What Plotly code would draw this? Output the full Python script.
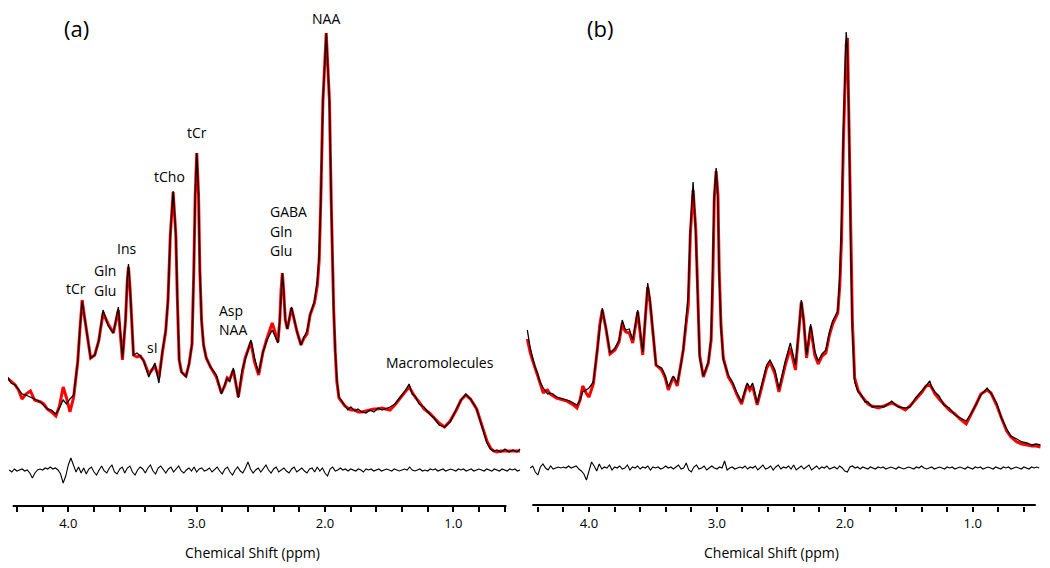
import numpy as np
import plotly.graph_objects as go

# ---------------- Panel (a) spectrum: chemical shift (ppm), fitted model, measured data (a.u.)
PPM_A = [4.475, 4.447, 4.414, 4.388, 4.361, 4.330, 4.295, 4.263, 4.216, 4.189,
         4.164, 4.131, 4.097, 4.069, 4.040, 4.014, 3.987, 3.958, 3.926, 3.910,
         3.892, 3.876, 3.861, 3.826, 3.794, 3.763, 3.729, 3.689, 3.649, 3.610,
         3.578, 3.554, 3.540, 3.531, 3.518, 3.505, 3.492, 3.465, 3.439, 3.412,
         3.373, 3.325, 3.294, 3.266, 3.241, 3.223, 3.205, 3.183, 3.162, 3.150,
         3.136, 3.118, 3.083, 3.059, 3.036, 3.022, 3.011, 2.999, 2.985, 2.975,
         2.962, 2.946, 2.925, 2.892, 2.846, 2.807, 2.779, 2.762, 2.744, 2.714,
         2.675, 2.646, 2.622, 2.577, 2.549, 2.517, 2.483, 2.451, 2.411, 2.366,
         2.352, 2.342, 2.332, 2.322, 2.309, 2.293, 2.261, 2.219, 2.187, 2.163,
         2.140, 2.116, 2.082, 2.059, 2.045, 2.033, 2.016, 1.990, 1.965, 1.951,
         1.942, 1.932, 1.920, 1.907, 1.891, 1.871, 1.845, 1.821, 1.798, 1.767,
         1.743, 1.713, 1.681, 1.649, 1.618, 1.587, 1.556, 1.529, 1.493, 1.455,
         1.415, 1.376, 1.344, 1.321, 1.298, 1.266, 1.228, 1.186, 1.150, 1.111,
         1.068, 1.025, 0.976, 0.940, 0.902, 0.866, 0.818, 0.781, 0.738, 0.710,
         0.686, 0.659, 0.628, 0.597, 0.566, 0.535, 0.504, 0.480]
FIT_A = [92, 89, 85, 80, 71, 76, 79, 70, 68, 66,
         61, 58, 54, 64, 83, 72, 58, 73, 109, 140,
         170, 155, 142, 112, 115, 129, 157, 146, 137, 160,
         110, 150, 190, 203, 180, 140, 115, 113, 114, 109,
         96, 104, 92, 118, 139, 170, 235, 278, 235, 170,
         110, 98, 94, 106, 126, 200, 275, 317, 275, 200,
         150, 125, 112, 103, 93, 77, 85, 92, 90, 100,
         73, 96, 112, 128, 108, 95, 118, 132, 147, 128,
         150, 180, 197, 180, 150, 141, 162, 139, 125, 132,
         136, 155, 167, 185, 210, 267, 369, 437, 369, 267,
         206, 160, 118, 88, 72, 68, 64, 62, 60, 60,
         58, 58, 59, 60, 61, 61, 62, 61, 60, 65,
         71, 78, 83, 78, 73, 68, 61, 57, 52, 47,
         43, 49, 60, 70, 75, 71, 61, 46, 29, 22,
         19, 18, 19, 19, 19, 19, 19, 19]
DATA_A = [93, 87, 85, 81, 76, 75, 73, 71, 68, 64,
          61, 60, 56, 62, 70, 66, 71, 75, 109, 140,
          169, 155, 142, 112, 115, 129, 160, 144, 137, 163,
          112, 150, 192, 206, 180, 140, 115, 117, 114, 109,
          93, 107, 87, 120, 139, 170, 235, 279, 235, 170,
          110, 98, 93, 106, 126, 200, 275, 317, 275, 200,
          150, 125, 112, 103, 95, 76, 87, 92, 88, 102,
          72, 100, 110, 130, 112, 97, 118, 130, 140, 127,
          150, 180, 197, 180, 150, 141, 163, 139, 125, 133,
          139, 155, 169, 190, 215, 267, 369, 437, 369, 267,
          206, 160, 120, 90, 73, 69, 65, 60, 63, 59,
          61, 58, 57, 60, 58, 62, 60, 61, 63, 66,
          72, 79, 86, 76, 74, 66, 63, 56, 52, 45,
          43, 48, 61, 70, 76, 71, 61, 46, 27, 21,
          19, 20, 18, 21, 18, 20, 18, 21]

# ---------------- Panel (b) spectrum
PPM_B = [4.482, 4.461, 4.442, 4.422, 4.403, 4.383, 4.357, 4.344, 4.324, 4.305,
         4.281, 4.253, 4.227, 4.201, 4.172, 4.149, 4.121, 4.094, 4.070, 4.049,
         4.023, 4.000, 3.966, 3.935, 3.916, 3.896, 3.883, 3.867, 3.836, 3.797,
         3.765, 3.740, 3.722, 3.711, 3.685, 3.658, 3.619, 3.597, 3.580, 3.558,
         3.541, 3.523, 3.502, 3.476, 3.432, 3.406, 3.380, 3.341, 3.310, 3.281,
         3.263, 3.242, 3.224, 3.208, 3.186, 3.165, 3.151, 3.135, 3.106, 3.067,
         3.045, 3.032, 3.021, 3.006, 2.992, 2.982, 2.968, 2.950, 2.911, 2.878,
         2.846, 2.807, 2.781, 2.763, 2.742, 2.721, 2.685, 2.642, 2.611, 2.585,
         2.546, 2.515, 2.465, 2.426, 2.386, 2.359, 2.340, 2.322, 2.299, 2.267,
         2.235, 2.208, 2.178, 2.148, 2.120, 2.095, 2.055, 2.039, 2.026, 2.011,
         1.989, 1.979, 1.965, 1.953, 1.941, 1.923, 1.897, 1.870, 1.842, 1.818,
         1.788, 1.738, 1.694, 1.633, 1.585, 1.527, 1.490, 1.447, 1.396, 1.365,
         1.336, 1.318, 1.295, 1.263, 1.225, 1.183, 1.139, 1.100, 1.051, 1.014,
         0.972, 0.936, 0.887, 0.857, 0.813, 0.775, 0.734, 0.701, 0.655, 0.615,
         0.576, 0.536, 0.505, 0.470]
FIT_B = [131, 118, 110, 101, 95, 87, 77, 79, 80, 76,
         74, 72, 71, 70, 69, 67, 65, 62, 70, 84,
         77, 73, 86, 120, 145, 160, 152, 141, 116, 120,
         128, 147, 140, 138, 137, 127, 158, 135, 115, 155,
         183, 168, 140, 105, 100, 93, 80, 93, 84, 105,
         120, 145, 165, 235, 280, 240, 175, 115, 93, 107,
         130, 190, 270, 299, 275, 200, 145, 112, 93, 86,
         76, 66, 78, 85, 80, 84, 65, 85, 102, 108,
         96, 78, 105, 122, 100, 140, 168, 150, 112, 143,
         115, 106, 114, 117, 135, 146, 157, 185, 230, 330,
         425, 432, 340, 230, 150, 92, 80, 74, 70, 66,
         64, 62, 64, 67, 64, 60, 64, 70, 78, 84,
         85, 82, 76, 71, 66, 60, 56, 51, 46, 55,
         66, 76, 80, 77, 65, 52, 39, 33, 28, 26,
         25, 24, 24, 23]
DATA_B = [140, 123, 113, 103, 97, 88, 82, 80, 76, 77,
          76, 73, 72, 71, 70, 69, 67, 65, 70, 78,
          80, 82, 88, 120, 145, 162, 152, 142, 117, 122,
          130, 150, 142, 140, 141, 130, 160, 135, 118, 155,
          187, 170, 143, 105, 102, 95, 83, 94, 87, 105,
          120, 147, 175, 240, 288, 235, 170, 112, 94, 108,
          132, 200, 275, 302, 270, 195, 142, 110, 95, 88,
          78, 68, 80, 87, 82, 87, 67, 88, 105, 110,
          100, 81, 109, 127, 105, 140, 170, 150, 115, 146,
          119, 109, 116, 120, 138, 149, 159, 195, 245, 340,
          438, 420, 330, 215, 140, 88, 78, 75, 68, 68,
          63, 64, 63, 69, 63, 62, 63, 72, 79, 84,
          89, 82, 78, 74, 65, 62, 55, 52, 49, 56,
          66, 75, 82, 77, 67, 52, 41, 34, 31, 28,
          27, 25, 26, 25]

# ---------------- Residuals (data - fit), sampled from 4.46 to 0.48 ppm
RES_A = [0, -2, 1, -1, 0, 1, -1, 0, -3, -8, -3, 0, 1, 0, 2, 1, 3, 1, 2,
         0, -4, -13, -6, 5, 12, 4, -2, 3, -3,
         2, -4, 1, 3, -2, -5, 0, 4, -1, -3,
         2, 5, -2, -4, 1, 3, -3, 2, 4, -2,
         -5, 0, 3, 1, -3, 2, 5, -1, -4, 2,
         4, 0, -3, 1, 3, -2, 1, 4, -1, -3,
         0, 2, -1, 3, -2, 1, 2, -1, 0, 2,
         -2, 1, 3, -1, -4, 1, 3, -2, -5, 0,
         3, -1, -3, 2, 8, 1, -3, 0, 2, -2,
         1, 5, 0, -3, 1, 3, -2, 0, 2, -1,
         -3, 1, 3, -2, 0, 2, -1, -3, 1, 2,
         -2, 3, -1, 2, -3, -6, 1, 3, -1, 0,
         2, 0, 1, -1, 1, 0, -1, 1, 0, -2,
         1, 0, 1, -1, 0, 1, -1, 0, 1, 0,
         -1, 1, 0, -1, 0, 1, 0, 3, 0, -1,
         0, 1, -1, 0, -1, 1, 0, 1, -1, 0,
         1, -1, 0, 1, 0, -1, 1, 0, 1, -1,
         0, 1, -1, 0, 1, 0, -1, 1, 0, -1,
         1, 0, -1, 1, 0, -1, 1, 0, 1, -1, 0]
RES_B = [0, 2, -4, -7, 1, 4, 0, -2, 2, -1,
         0, 1, 0, 1, 0, 2, 0, 1, 2, -1,
         -3, -6, -12, -3, 6, 2, -3, 4, -1, 1,
         0, 3, -2, 1, 0, 2, -1, 0, 3, -2,
         1, 0, 2, -1, 1, 0, 2, -2, 1, 0,
         1, -1, 0, 2, 0, 1, -1, 1, 3, -1,
         0, 5, -2, -4, 1, 3, -1, 0, 2, -2,
         0, 2, 0, -1, 1, 0, 7, -2, 0, 1,
         -1, 0, 1, 0, 2, -1, 1, 0, 2, -2,
         1, 3, -1, 0, 2, -2, 1, 3, -1, 1,
         0, 2, -1, 3, -2, 0, 2, -1, 1, 3,
         -2, 0, 2, -1, 1, 0, 2, -1, 0, 1,
         -1, 2, 0, -3, -4, 1, 2, 0, 1, -1,
         1, 0, -1, 1, 0, -1, 1, 0, 1, -1,
         0, 1, 0, -1, 1, 0, -1, 0, 1, 0,
         -1, 1, 0, 2, 0, -1, 0, 1, -1, 0,
         1, 0, -1, 1, 0, 1, -1, 0, 1, 0,
         -1, 1, 0, -1, 1, 0, 1, -1, 0, 1,
         0, -1, 1, 0, -1, 1, 0, 1, -1, 0,
         1, 0, -1, 1, 0, -1, 1, 0, 1, 0]
RES_PPM_START, RES_PPM_END = 4.46, 0.48

# ---------------- Axis ticks and labels
MAJOR_TICKS = [4.0, 3.0, 2.0, 1.0]
MAJOR_TEXT = ["4.0", "3.0", "2.0", "1.0"]
MINOR_TICKS = [4.4, 4.2, 3.8, 3.6, 3.4, 3.2, 2.8, 2.6, 2.4, 2.2,
               1.8, 1.6, 1.4, 1.2, 0.8, 0.6]

# peak labels of panel (a): text, ppm, intensity, anchor
PEAK_LABELS = [
    ("NAA", 1.990, 452, "center"),
    ("tCr", 2.996, 338, "center"),
    ("tCho", 3.208, 294, "center"),
    ("GABA", 2.446, 259, "left"),
    ("Gln", 2.446, 239, "left"),
    ("Glu", 2.446, 220, "left"),
    ("Ins", 3.544, 222, "center"),
    ("Gln", 3.815, 200, "left"),
    ("Glu", 3.815, 180, "left"),
    ("tCr", 3.939, 182, "center"),
    ("sI", 3.347, 123, "center"),
    ("Asp", 2.839, 160, "left"),
    ("NAA", 2.839, 141, "left"),
    ("Macromolecules", 1.107, 108, "center"),
]

FONT = "Open Sans, Lato, DejaVu Sans, sans-serif"
RED = "#ff0000"

fig = go.Figure()

panels = [
    (PPM_A, FIT_A, DATA_A, RES_A, "x", "y", 0),
    (PPM_B, FIT_B, DATA_B, RES_B, "x2", "y2", 2),
]
for ppm, fit, data, res, xa, ya, off in panels:
    fig.add_trace(go.Scatter(x=ppm, y=fit, mode="lines", xaxis=xa, yaxis=ya,
                             line=dict(color=RED, width=3), hoverinfo="skip",
                             showlegend=False))
    fig.add_trace(go.Scatter(x=ppm, y=data, mode="lines", xaxis=xa, yaxis=ya,
                             line=dict(color="black", width=1.3), hoverinfo="skip",
                             showlegend=False))
    res_ppm = np.linspace(RES_PPM_START, RES_PPM_END, len(res))
    fig.add_trace(go.Scatter(x=res_ppm, y=np.array(res) + off, mode="lines",
                             xaxis=xa, yaxis=ya,
                             line=dict(color="black", width=1.1), hoverinfo="skip",
                             showlegend=False))

xcommon = dict(showgrid=False, zeroline=False, showline=False,
               ticks="outside", ticklen=5, tickwidth=1.5, tickcolor="black",
               tickmode="array", tickvals=MAJOR_TICKS, ticktext=MAJOR_TEXT,
               tickfont=dict(family=FONT, size=13, color="black"),
               minor=dict(tickmode="array", tickvals=MINOR_TICKS, ticks="outside",
                          ticklen=5, tickwidth=1.5, tickcolor="black"),
               fixedrange=True)
ycommon = dict(visible=False, range=[-36, 462], fixedrange=True, domain=[0, 1])

annotations = []
for text, px, iy, anchor in PEAK_LABELS:
    annotations.append(dict(x=px, y=iy, xref="x", yref="y", text=text,
                            showarrow=False, xanchor=anchor, yanchor="middle",
                            font=dict(family=FONT, size=14, color="black")))


def paper_text(x, y, text, size):
    return dict(x=x, y=y, xref="paper", yref="paper", text=text, showarrow=False,
                xanchor="center", yanchor="middle",
                font=dict(family=FONT, size=size, color="black"))


annotations += [
    paper_text(0.0657, 0.9608, "(a)", 22),
    paper_text(0.5638, 0.9598, "(b)", 22),
    paper_text(0.2324, -0.0924, "Chemical Shift (ppm)", 14),
    paper_text(0.7271, -0.0924, "Chemical Shift (ppm)", 14),
]

shapes = [
    dict(type="line", xref="x", yref="paper", x0=4.433, x1=0.586, y0=0, y1=0,
         line=dict(color="black", width=2)),
    dict(type="line", xref="x2", yref="paper", x0=4.443, x1=0.507, y0=0.002, y1=0.002,
         line=dict(color="black", width=2)),
]

SPLIT = 517 / 1050
fig.update_layout(
    width=1050, height=568,
    margin=dict(l=0, r=0, t=0, b=70),
    paper_bgcolor="white", plot_bgcolor="white",
    xaxis=dict(domain=[0, SPLIT], range=[4.4699, 0.4412], anchor="y", **xcommon),
    xaxis2=dict(domain=[SPLIT, 1.0], range=[4.5004, 0.3331], anchor="y2", **xcommon),
    yaxis=dict(anchor="x", **ycommon),
    yaxis2=dict(anchor="x2", **ycommon),
    annotations=annotations,
    shapes=shapes,
    showlegend=False,
)

fig.write_html("out.html")
